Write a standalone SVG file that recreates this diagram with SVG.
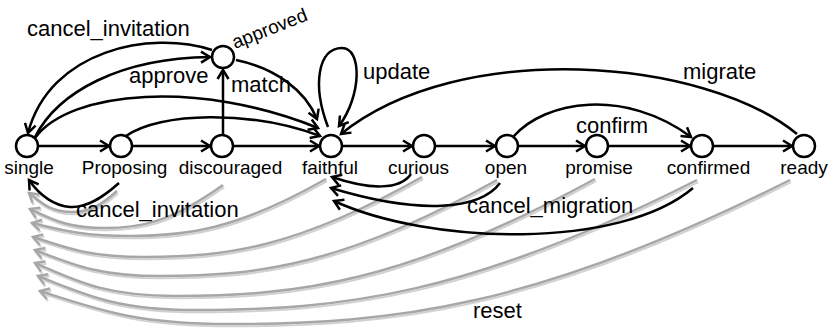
<svg xmlns="http://www.w3.org/2000/svg" width="831" height="331" viewBox="0 0 831 331">
  <style>
    .state { fill: #ffffff; stroke: #000000; stroke-width: 2.5; }
    .name { font-family: "Liberation Sans", Arial, sans-serif; font-size: 19px; fill: #000000; text-anchor: middle; }
    .event { font-family: "Liberation Sans", Arial, sans-serif; font-size: 22px; fill: #000000; }
    .edge { fill: none; stroke: #000000; stroke-width: 2.5; marker-end: url(#arrow); }
    .reset { fill: none; stroke: #a7a7a7; stroke-width: 2.5; marker-end: url(#arrow-grey); }
  </style>
  <defs>
    <marker id="arrow" markerUnits="userSpaceOnUse" markerWidth="16" markerHeight="16" refX="11" refY="8" orient="auto">
      <path d="M2,2.5 L11,8 L2,13.5" fill="none" stroke="#000000" stroke-width="2.5"/>
    </marker>
    <marker id="arrow-grey" markerUnits="userSpaceOnUse" markerWidth="16" markerHeight="16" refX="11" refY="8" orient="auto">
      <path d="M2,2.5 L11,8 L2,13.5" fill="none" stroke="#a7a7a7" stroke-width="2.5"/>
    </marker>
    <filter id="soft-shadow" x="-5%" y="-5%" width="110%" height="120%">
      <feDropShadow dx="1" dy="2" stdDeviation="0.6" flood-color="#000000" flood-opacity="0.18"/>
    </filter>
  </defs>

  <rect width="831" height="331" fill="#ffffff"/>

  <g id="connectors">
    <!-- reset: every state back to single -->
    <g id="reset-edges" filter="url(#soft-shadow)">
      <path class="reset" d="M117,191 C96.5,209.7 85,212 72,212 C50.5,212 41.9,203.5 29,193"/>
      <path class="reset" d="M223,185 C169.3,223.3 139.2,228 105,228 C67.5,228 52.5,219.5 30,209"/>
      <path class="reset" d="M326,179 C236.8,229.7 186.8,236 130,236 C81,236 61.4,230 32,223"/>
      <path class="reset" d="M422,177 C296,248.2 225.3,257 145,257 C89,257 66.6,248 33,237"/>
      <path class="reset" d="M497,180 C343.7,265.4 257.7,276 160,276 C97.5,276 72.5,264.3 35,250"/>
      <path class="reset" d="M595,179 C403.9,283.1 296.8,296 175,296 C105,296 77,281.2 35,263"/>
      <path class="reset" d="M697,180 C468.6,295.7 340.6,310 195,310 C116.5,310 85.1,294.7 38,276"/>
      <path class="reset" d="M790,180 C535.2,308.2 392.4,324 230,324 C135,324 97,309.2 40,291"/>
    </g>

    <!-- main chain -->
    <path class="edge" d="M39,146 H109"/>
    <path class="edge" d="M133,146 H210"/>
    <path class="edge" d="M234,146 H319"/>
    <path class="edge" d="M343,146 H412"/>
    <path class="edge" d="M436,146 H495"/>
    <path class="edge" d="M519,146 H585"/>
    <path class="edge" d="M609,146 H690"/>
    <path class="edge" d="M714,146 H792"/>

    <!-- upper transitions -->
    <path class="edge" d="M212,50 C150,30 50,50 28,133"/>
    <path class="edge" d="M35,137 C58,92 120,58 210,57"/>
    <path class="edge" d="M223,134 V70"/>
    <path class="edge" d="M236,60 C275,68 305,90 317,119"/>
    <path class="edge" d="M35,138 C70,90 200,80 318,128"/>
    <path class="edge" d="M126,136 C160,112 250,110 320,136"/>
    <path class="edge" d="M328,127 C312,85 318,48 342,48 C362,48 362,95 339,126"/>
    <path class="edge" d="M797,134 C705,58 460,38 341,134"/>
    <path class="edge" d="M513,137 C545,100 625,88 691,137"/>

    <!-- lower transitions -->
    <path class="edge" d="M119,183 C100,200 85,208 70,207 C55,206 40,196 29,180"/>
    <path class="edge" d="M411,174 C400,190 370,190 332,177"/>
    <path class="edge" d="M500,183 C480,210 420,215 331,188"/>
    <path class="edge" d="M693,188 C620,250 430,245 334,201"/>

    <!-- transition labels -->
    <text class="event" x="27" y="36">cancel_invitation</text>
    <text class="event" x="129" y="83">approve</text>
    <text class="event" x="231" y="92">match</text>
    <text class="event" x="363" y="79">update</text>
    <text class="event" x="683" y="79">migrate</text>
    <text class="event" x="576" y="133">confirm</text>
    <text class="event" x="76" y="217">cancel_invitation</text>
    <text class="event" x="467" y="213">cancel_migration</text>
    <text class="event" x="473" y="318">reset</text>
  </g>

  <g id="node-single">
    <circle class="state" cx="27" cy="146" r="11"/>
    <text class="name" x="29" y="174">single</text>
  </g>
  <g id="node-proposing">
    <circle class="state" cx="121" cy="146" r="11"/>
    <text class="name" x="124.5" y="174">Proposing</text>
  </g>
  <g id="node-discouraged">
    <circle class="state" cx="222" cy="146" r="11"/>
    <text class="name" x="230.5" y="174">discouraged</text>
  </g>
  <g id="node-approved">
    <circle class="state" cx="223" cy="57" r="11"/>
    <text class="name" x="235" y="49" text-anchor="start" style="text-anchor:start" transform="rotate(-21.5 235 49)">approved</text>
  </g>
  <g id="node-faithful">
    <circle class="state" cx="331" cy="146" r="11"/>
    <text class="name" x="330" y="174">faithful</text>
  </g>
  <g id="node-curious">
    <circle class="state" cx="424" cy="146" r="11"/>
    <text class="name" x="418.5" y="174">curious</text>
  </g>
  <g id="node-open">
    <circle class="state" cx="507" cy="146" r="11"/>
    <text class="name" x="506" y="174">open</text>
  </g>
  <g id="node-promise">
    <circle class="state" cx="597" cy="146" r="11"/>
    <text class="name" x="599" y="174">promise</text>
  </g>
  <g id="node-confirmed">
    <circle class="state" cx="702" cy="146" r="11"/>
    <text class="name" x="708.5" y="174">confirmed</text>
  </g>
  <g id="node-ready">
    <circle class="state" cx="804" cy="146" r="11"/>
    <text class="name" x="804" y="174">ready</text>
  </g>
</svg>
